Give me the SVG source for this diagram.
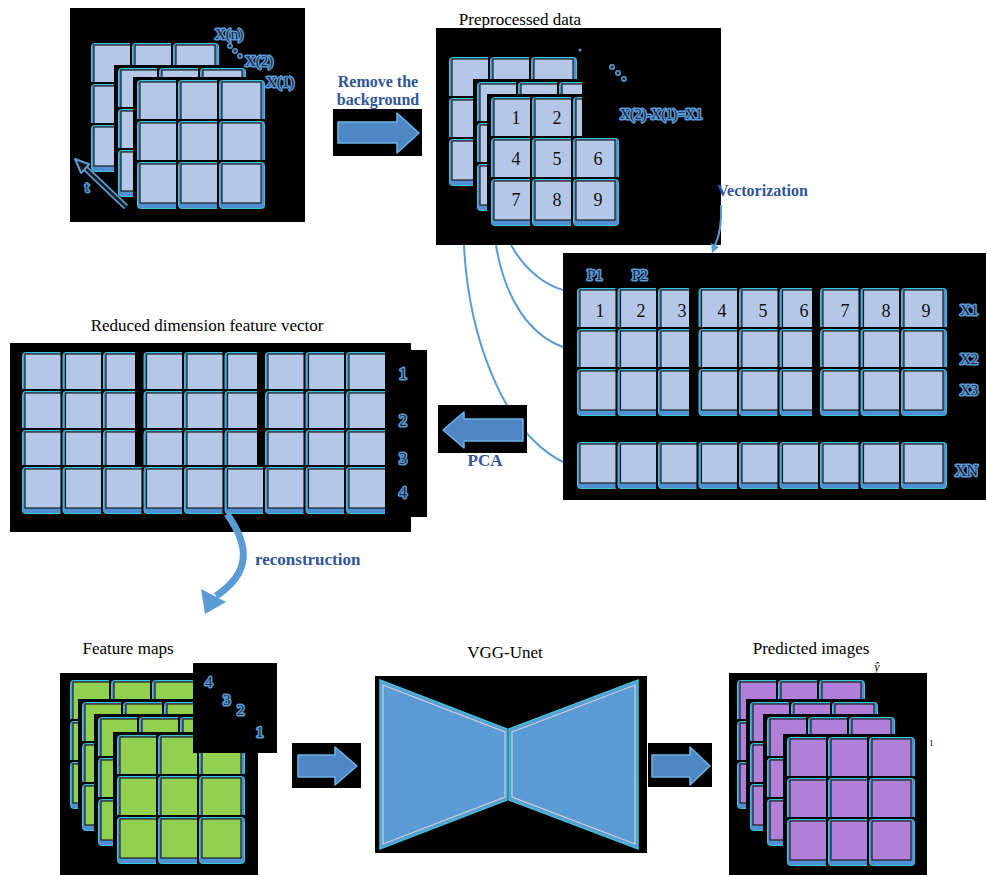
<svg xmlns="http://www.w3.org/2000/svg" width="987" height="875" viewBox="0 0 987 875">
<style>
.k{fill:#000}
.bv{fill:#4f8fd3;stroke:#38c6d9;stroke-width:1}
.lb{fill:#b4c7e7;stroke:#1e1e1e;stroke-width:1.2}
.lg{fill:#92d050;stroke:#1e1e1e;stroke-width:1.2}
.lp{fill:#b07fd8;stroke:#1e1e1e;stroke-width:1.2}
.h{font-family:"Liberation Serif","Times New Roman",serif;font-size:17px;fill:#000;text-anchor:middle}
.bl{font-family:"Liberation Serif","Times New Roman",serif;font-size:17px;font-weight:bold;fill:#2f5597;text-anchor:middle}
.n{font-family:"Liberation Serif","Times New Roman",serif;font-size:18px;fill:#111;text-anchor:middle}
.g{font-family:"Liberation Serif","Times New Roman",serif;font-size:15px;fill:#1b2a4a;stroke:#5b9bd5;stroke-width:3;stroke-linejoin:round;paint-order:stroke}
.dot{fill:#1b2a4a;stroke:#5b9bd5;stroke-width:1.5}
.ba{fill:#4f86c4;stroke:#6bb5e8;stroke-width:1.5;stroke-linejoin:round}
.cn{fill:none;stroke:#5b9bd5;stroke-width:2}
.vg{fill:#5b9bd5;stroke:#3fc0d8;stroke-width:1.5}
.vi{fill:none;stroke:#d0d0d0;stroke-width:1.2}
</style>
<defs>
<g id="cb"><rect class="k" x="-2" y="-2" width="50" height="51"/><rect class="bv" x="0.5" y="0.5" width="45" height="46" rx="3"/><rect class="lb" x="3" y="2" width="39" height="39"/></g>
<g id="cg"><rect class="k" x="-2" y="-2" width="50" height="51"/><rect class="bv" x="0.5" y="0.5" width="45" height="46" rx="3"/><rect class="lg" x="3" y="2" width="39" height="39"/></g>
<g id="cp"><rect class="k" x="-2" y="-2" width="50" height="51"/><rect class="bv" x="0.5" y="0.5" width="45" height="46" rx="3"/><rect class="lp" x="3" y="2" width="39" height="39"/></g>
<g id="gb"><use href="#cb"/><use href="#cb" x="41"/><use href="#cb" x="82"/><use href="#cb" y="41"/><use href="#cb" x="41" y="41"/><use href="#cb" x="82" y="41"/><use href="#cb" y="82"/><use href="#cb" x="41" y="82"/><use href="#cb" x="82" y="82"/></g>
<g id="gg"><use href="#cg"/><use href="#cg" x="41"/><use href="#cg" x="82"/><use href="#cg" y="41"/><use href="#cg" x="41" y="41"/><use href="#cg" x="82" y="41"/><use href="#cg" y="82"/><use href="#cg" x="41" y="82"/><use href="#cg" x="82" y="82"/></g>
<g id="gp"><use href="#cp"/><use href="#cp" x="41"/><use href="#cp" x="82"/><use href="#cp" y="41"/><use href="#cp" x="41" y="41"/><use href="#cp" x="82" y="41"/><use href="#cp" y="82"/><use href="#cp" x="41" y="82"/><use href="#cp" x="82" y="82"/></g>
<g id="rb"><use href="#cb"/><use href="#cb" x="40.5"/><use href="#cb" x="81"/><use href="#cb" x="121.5"/><use href="#cb" x="162"/><use href="#cb" x="202.5"/><use href="#cb" x="243"/><use href="#cb" x="283.5"/><use href="#cb" x="324"/></g>
<rect id="bk" class="k" x="-4" y="-3" width="134" height="134"/>
</defs>

<g id="input">
<rect class="k" x="70" y="8" width="235" height="214"/>
<use href="#gb" x="91" y="43"/>
<g transform="translate(118,68)"><use href="#bk"/><use href="#gb"/></g>
<g transform="translate(137,80)"><use href="#bk"/><use href="#gb"/></g>
<text class="g" x="215" y="39">X(n)</text>
<circle class="dot" cx="230" cy="46" r="2.2"/><circle class="dot" cx="235" cy="51" r="2.2"/><circle class="dot" cx="240" cy="56" r="2.2"/>
<text class="g" x="245" y="66">X(2)</text>
<text class="g" x="266" y="87">X(1)</text>
<line x1="126" y1="207" x2="83" y2="166" stroke="#5b9bd5" stroke-width="6"/>
<line x1="126" y1="207" x2="83" y2="166" stroke="#1a1a1a" stroke-width="2.5"/>
<polygon points="75,159 89.3,164.2 81.1,173" fill="#1a1a1a" stroke="#5b9bd5" stroke-width="2" stroke-linejoin="round"/>
<text class="g" x="85" y="192">t</text>
</g>

<g id="preprocessed">
<text class="h" x="520" y="25">Preprocessed data</text>
<rect class="k" x="436" y="28" width="285" height="217"/>
<use href="#gb" x="449" y="57"/>
<g transform="translate(477,82)"><use href="#bk"/><use href="#gb"/></g>
<g transform="translate(491,97)"><use href="#bk"/><use href="#gb"/>
<text class="n" x="25" y="27">1</text><text class="n" x="66" y="27">2</text><text class="n" x="107" y="27">3</text>
<text class="n" x="25" y="68">4</text><text class="n" x="66" y="68">5</text><text class="n" x="107" y="68">6</text>
<text class="n" x="25" y="109">7</text><text class="n" x="66" y="109">8</text><text class="n" x="107" y="109">9</text>
</g>
<rect class="k" x="582" y="40" width="135" height="96"/>
<circle cx="580" cy="50" r="1.5" fill="#5b9bd5"/>
<circle class="dot" cx="612" cy="67" r="2.2"/><circle class="dot" cx="618" cy="73" r="2.2"/><circle class="dot" cx="624" cy="79" r="2.2"/>
<text class="g" x="620" y="119" style="font-size:14px">X(2)-X(1)=X1</text>
</g>

<g id="vectors">
<rect class="k" x="563" y="253" width="423" height="247"/>
<use href="#rb" x="577" y="288"/>
<use href="#rb" x="577" y="329"/>
<use href="#rb" x="577" y="369"/>
<rect class="k" x="689" y="286" width="8" height="132"/>
<rect class="k" x="812" y="286" width="7" height="132"/>
<use href="#rb" x="577" y="442"/>
<text class="n" x="600" y="317">1</text><text class="n" x="641" y="317">2</text><text class="n" x="682" y="317">3</text>
<text class="n" x="722" y="317">4</text><text class="n" x="763" y="317">5</text><text class="n" x="804" y="317">6</text>
<text class="n" x="845" y="317">7</text><text class="n" x="886" y="317">8</text><text class="n" x="926" y="317">9</text>
<text class="g" x="587" y="280">P1</text>
<text class="g" x="632" y="280">P2</text>
<text class="g" x="960" y="315">X1</text>
<text class="g" x="960" y="364">X2</text>
<text class="g" x="960" y="395">X3</text>
<text class="g" x="955" y="476" style="font-size:16px">XN</text>
</g>

<g id="reduced">
<text class="h" x="207" y="331">Reduced dimension feature vector</text>
<rect class="k" x="10" y="343" width="401" height="189"/>
<use href="#rb" x="22" y="352"/>
<use href="#rb" x="22" y="391"/>
<use href="#rb" x="22" y="430"/>
<rect class="k" x="135" y="350" width="7" height="115"/>
<rect class="k" x="257" y="350" width="7" height="115"/>
<use href="#rb" x="22" y="467"/>
<rect class="k" x="385" y="350" width="42" height="167"/>
<text class="g" x="403" y="379" text-anchor="middle" style="font-size:16px">1</text>
<text class="g" x="403" y="426" text-anchor="middle" style="font-size:16px">2</text>
<text class="g" x="403" y="464" text-anchor="middle" style="font-size:16px">3</text>
<text class="g" x="403" y="498" text-anchor="middle" style="font-size:16px">4</text>
</g>

<g id="featuremaps">
<text class="h" x="128" y="654">Feature maps</text>
<rect class="k" x="60" y="673" width="198" height="202"/>
<use href="#gg" x="70" y="680"/>
<g transform="translate(82,702)"><use href="#bk"/><use href="#gg"/></g>
<g transform="translate(98,717)"><use href="#bk"/><use href="#gg"/></g>
<g transform="translate(117,735)"><use href="#bk"/><use href="#gg"/></g>
<rect class="k" x="193" y="663" width="84" height="90"/>
<text class="g" x="205" y="687">4</text>
<text class="g" x="223" y="705">3</text>
<text class="g" x="237" y="715">2</text>
<text class="g" x="256" y="737">1</text>
</g>

<g id="vggunet">
<text class="h" x="505" y="658">VGG-Unet</text>
<rect class="k" x="375" y="676" width="272" height="177"/>
<polygon class="vg" points="380,680 507,729 507,800 380,849"/>
<polygon class="vi" points="383,685 505,732 505,797 383,844"/>
<polygon class="vg" points="509,729 638,680 638,849 509,800"/>
<polygon class="vi" points="512,732 635,685 635,844 512,797"/>
</g>

<g id="predicted">
<text class="h" x="811" y="654">Predicted images</text>
<text x="877" y="671" font-family="Liberation Serif, serif" font-size="12" font-style="italic" text-anchor="middle">ŷ</text>
<rect class="k" x="729" y="673" width="198" height="202"/>
<use href="#gp" x="737" y="680"/>
<g transform="translate(750,702)"><use href="#bk"/><use href="#gp"/></g>
<g transform="translate(767,717)"><use href="#bk"/><use href="#gp"/></g>
<g transform="translate(787,737)"><use href="#bk"/><use href="#gp"/></g>
<text x="929" y="746" font-family="Liberation Serif, serif" font-size="9">1</text>
</g>

<g id="connectors">
<path class="cn" d="M464,245 C468,330 500,430 563,462"/>
<path class="cn" d="M496,245 C505,300 530,335 563,347"/>
<path class="cn" d="M511,245 C525,270 545,285 563,290"/>
<path class="cn" d="M721,205 C722,225 719,237 715,245"/>
<polygon points="712,253 719,247 711,243" fill="#5b9bd5"/>
<text class="bl" x="717" y="196" style="text-anchor:start;font-size:16px">Vectorization</text>

<text class="bl" x="378" y="87" style="font-size:16px">Remove the</text>
<text class="bl" x="378" y="105" style="font-size:16px">background</text>
<rect class="k" x="333" y="109" width="89" height="47"/>
<polygon class="ba" points="338,122 397,122 397,113 419,133 397,153 397,143 338,143"/>

<rect class="k" x="438" y="405" width="89" height="48"/>
<polygon class="ba" points="443,430 464,412 464,419 523,419 523,441 464,441 464,448"/>
<text class="bl" x="485" y="466">PCA</text>

<path d="M227,514 C249,545 252,572 216,596" fill="none" stroke="#5b9bd5" stroke-width="7"/>
<polygon points="201,589 226,602 205,614" fill="#5b9bd5"/>
<text class="bl" x="255" y="565" style="text-anchor:start">reconstruction</text>

<rect class="k" x="292" y="743" width="69" height="45"/>
<polygon class="ba" points="298,755 335,755 335,747 357,766 335,785 335,777 298,777"/>

<rect class="k" x="648" y="743" width="64" height="44"/>
<polygon class="ba" points="652,755 690,755 690,747 710,766 690,785 690,777 652,777"/>
</g>
</svg>
